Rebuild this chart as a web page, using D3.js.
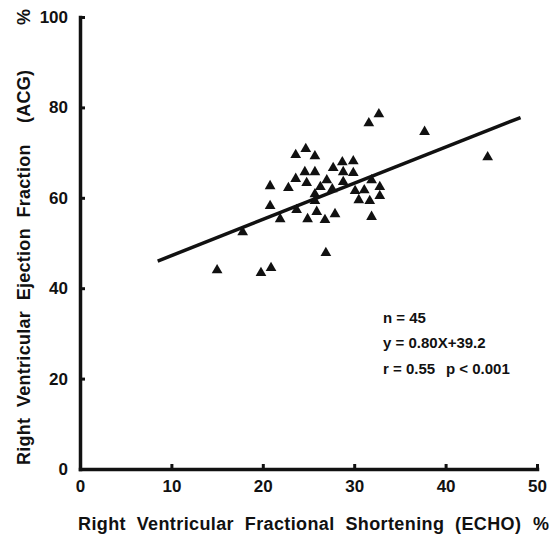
<!DOCTYPE html>
<html><head><meta charset="utf-8">
<script src="https://cdn.jsdelivr.net/npm/d3@7"></script>
<style>
html,body{margin:0;padding:0;background:#fff;}
svg{display:block;}
text{font-family:"Liberation Sans Narrow","Liberation Sans",Arial,sans-serif;font-weight:bold;fill:#111;}
</style></head>
<body>
<script>
// Data
const xValues = [15.0,19.8,20.9,17.8,32.7,31.6,37.7,44.6,
  24.7,23.6,25.7,29.9,28.7,27.7,24.6,25.7,28.8,29.9,23.6,27.0,24.8,28.8,31.9,
  20.8,22.8,26.3,32.8,27.6,25.7,30.1,31.1,32.8,30.5,31.7,25.7,20.8,23.7,25.9,
  27.9,21.9,24.9,26.8,31.9,26.9];
const yValues = [44.0,43.4,44.5,52.4,78.5,76.5,74.6,69.0,
  70.8,69.5,69.2,68.1,67.9,66.6,65.7,65.7,65.7,65.5,64.2,63.9,63.3,63.5,63.9,
  62.6,62.2,62.4,62.4,61.9,60.8,61.5,61.7,60.4,59.5,59.3,59.3,58.2,57.3,56.9,
  56.4,55.3,55.3,55.1,55.8,47.8];
const xTicks = [0,10,20,30,40,50];
const yTicks = [0,20,40,60,80,100];
const slope = 0.80, intercept = 39.2;
const lineRange = [8.5, 48.2];
const statLines = ["n = 45","y = 0.80X+39.2","r = 0.55"];
const statP = "p < 0.001";
const xTitle = "Right  Ventricular  Fractional  Shortening  (ECHO)";
const yTitle = "Right  Ventricular  Ejection  Fraction    (ACG)";

const W = 549, H = 534;
const svg = d3.select("body").append("svg").attr("width",W).attr("height",H);

const x = d3.scaleLinear().domain([0,50]).range([80,537]);
const y = d3.scaleLinear().domain([0,100]).range([469,17]);

const fontFam = '"Liberation Sans Narrow","Liberation Sans",Arial,sans-serif';

// axes
const xAxis = d3.axisBottom(x).tickValues(xTicks).tickSizeInner(-5).tickSizeOuter(0).tickPadding(11);
const yAxis = d3.axisLeft(y).tickValues(yTicks).tickSizeInner(-5).tickSizeOuter(0).tickPadding(12);

const gx = svg.append("g").attr("transform",`translate(0,${y(0)})`).call(xAxis);
const gy = svg.append("g").attr("transform",`translate(${x(0)},0)`).call(yAxis);
[gx,gy].forEach(g=>{
  g.select(".domain").attr("stroke","#111").attr("stroke-width",3.5).attr("stroke-linecap","square");
  g.selectAll(".tick line").attr("stroke","#111").attr("stroke-width",3);
  g.selectAll(".tick text").style("font-size","17px").style("font-family",fontFam).style("font-weight","bold").attr("fill","#111");
});
gx.selectAll(".tick text").attr("dy","0.71em");
gx.selectAll(".tick").filter(d=>d===0).select("line").remove();
gy.selectAll(".tick").filter(d=>d===0).select("line").remove();

// regression line
svg.append("line")
  .attr("x1",x(lineRange[0])).attr("y1",y(slope*lineRange[0]+intercept))
  .attr("x2",x(lineRange[1])).attr("y2",y(slope*lineRange[1]+intercept))
  .attr("stroke","#111").attr("stroke-width",3.5);

// points
const pts = xValues.map((v,i)=>({x:v,y:yValues[i]}));
svg.append("g").selectAll("path").data(pts).join("path")
  .attr("d",d3.symbol(d3.symbolTriangle,50))
  .attr("transform",d=>`translate(${x(d.x)},${y(d.y)})`)
  .attr("fill","#111");

// stats
svg.append("g").selectAll("text").data(statLines).join("text")
  .attr("x",383).attr("y",(d,i)=>[323,348,374][i])
  .style("font-size","15px")
  .text(d=>d);
svg.append("text").attr("x",446).attr("y",374).style("font-size","15px").text(statP);

// x title
svg.append("text").attr("x",78).attr("y",530).attr("xml:space","preserve")
  .attr("textLength",443).attr("lengthAdjust","spacing")
  .style("font-size","18px").style("white-space","pre")
  .text(xTitle);
svg.append("text").attr("x",533).attr("y",530).style("font-size","18px").text("%");

// y title
svg.append("text").attr("transform","translate(30,465) rotate(-90)").attr("xml:space","preserve")
  .attr("textLength",395).attr("lengthAdjust","spacing")
  .style("font-size","18px").style("white-space","pre")
  .text(yTitle);
svg.append("text").attr("transform","translate(30,25) rotate(-90)").style("font-size","18px").text("%");
</script>
</body></html>
